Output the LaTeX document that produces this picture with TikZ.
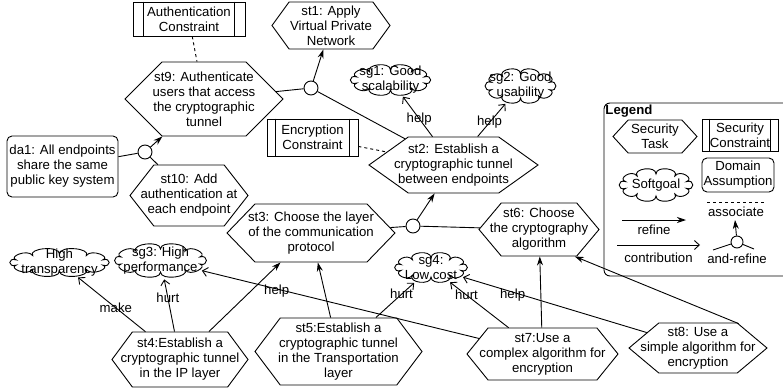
\documentclass[tikz,border=0pt]{standalone}
\usepackage{fontspec}
\setmainfont{Liberation Sans}
\usetikzlibrary{shapes.symbols,shapes.geometric,arrows.meta}
\tikzset{
  task/.style={signal, signal to=east and west, signal pointer angle=#1, draw,
    align=center, inner xsep=-30pt, inner ysep=-20pt},
  goal/.style={ellipse, align=center, inner xsep=-20pt, inner ysep=-14pt},
  constr/.style={draw, align=center, inner sep=0pt},
  assum/.style={draw, rounded corners=5pt, align=center, inner sep=0pt},
  andref/.style={draw, circle, fill=white, minimum size=14pt, inner sep=0pt},
  refine/.style={-{Stealth[length=9pt,width=6pt]}},
  contrib/.style={-{Straight Barb[length=5pt,width=9pt]}},
  assoc/.style={dashed},
  lbl/.style={inner sep=0pt}
}

\begin{document}
\begin{tikzpicture}[x=1pt,y=1pt,line width=0.9pt,font=\fontsize{13.2}{15}\selectfont]
\useasboundingbox (0,0) rectangle (783,-391);

\node (authc) at (189,-19) [constr, minimum width=112, minimum height=34] {Authentication\\Constraint};
\node (st1) at (331,-25.5) [task=108, minimum width=118, minimum height=47] {st1: Apply\\Virtual Private\\Network};
\node (st9) at (204,-99) [task=90, minimum width=158, minimum height=74] {st9: Authenticate\\users that access\\the cryptographic\\tunnel};
\node (sg1) at (390.5,-80) [goal, minimum width=85, minimum height=34] {sg1: Good\\scalability};
\node (sg2) at (520.5,-86) [goal, minimum width=75, minimum height=38] {sg2: Good\\usability};
\node (encc) at (312.5,-137.5) [constr, minimum width=91, minimum height=37] {Encryption\\Constraint};
\node (st2) at (453.5,-165) [task=71, minimum width=169, minimum height=56] {st2: Establish a\\cryptographic tunnel\\between endpoints};
\node (da1) at (62.5,-166.5) [assum, minimum width=111, minimum height=61] {da1: All endpoints\\share the same\\public key system};
\node (st10) at (189,-195.5) [task=104, minimum width=118, minimum height=61] {st10: Add\\authentication at\\each endpoint};
\node (st3) at (311,-233) [task=92, minimum width=168, minimum height=58] {st3: Choose the layer\\of the communication\\protocol};
\node (st6) at (539,-229.5) [task=100, minimum width=120, minimum height=53] {st6: Choose\\the cryptography\\algorithm};
\node (ht) at (59.5,-262.5) [goal, minimum width=105, minimum height=31] {High\\transparency};
\node (sg3) at (160.5,-260.5) [goal, minimum width=97, minimum height=37] {sg3: High\\performance};
\node (sg4) at (431,-267.5) [goal, minimum width=77, minimum height=33] {sg4:\\Low cost};
\node (st4) at (180,-359.5) [task=107, minimum width=136, minimum height=55] {st4:Establish a\\cryptographic tunnel\\in the IP layer};
\node (st5) at (338.5,-351.5) [task=106, minimum width=167, minimum height=67] {st5:Establish a\\cryptographic tunnel\\in the Transportation\\layer};
\node (st7) at (542.5,-354) [task=102, minimum width=151, minimum height=52] {st7:Use a\\complex algorithm for\\encryption};
\node (st8) at (698,-348) [task=80, minimum width=138, minimum height=50] {st8: Use a\\simple algorithm for\\encryption};

\node (and1) at (311,-88) [andref] {};
\node (and2) at (145,-152) [andref] {};
\node (and3) at (413,-226) [andref] {};

\draw[assoc] (authc) -- (st9);
\draw[assoc] (encc) -- (st2);
\draw (st9) -- (and1);
\draw (st2) -- (and1);
\draw[refine] (and1) -- (st1);
\draw (da1) -- (and2);
\draw (st10) -- (and2);
\draw[refine] (and2) -- (st9);
\draw (st3) -- (and3);
\draw (st6) -- (and3);
\draw[refine] (and3) -- (st2);
\draw[refine] (st4) -- (st3);
\draw[refine] (st5) -- (st3);
\draw[refine] (st7) -- (st6);
\draw[refine] (st8.31) -- (st6.-37);
\draw[contrib] (st2) -- (sg1) node[lbl, pos=.45] {help};
\draw[contrib] (st2) -- (sg2) node[lbl, pos=.43] {help};
\draw[contrib] (st4) -- (ht) node[lbl, pos=.44] {make};
\draw[contrib] (st4) -- (sg3) node[lbl, pos=.65] {hurt};
\draw[contrib] (st5) -- (sg4) node[lbl, pos=.67] {hurt};
\draw[contrib] (st7) -- (sg4) node[lbl, pos=.72] {hurt};
\draw[contrib] (st7) -- (sg3) node[lbl, pos=.73, yshift=-2pt] {help};
\draw[contrib] (st8) -- (sg4) node[lbl, pos=.73, yshift=-3pt] {help};

\draw[rounded corners=6pt] (604,-103) rectangle (800,-276);
\node (legtitle) at (605,-104) [anchor=north west, inner sep=0pt] {\bfseries Legend};
\node (legtask) at (655,-136.5) [task=95, minimum width=84, minimum height=33] {Security\\Task};
\node (legc) at (740,-135) [constr, minimum width=76, minimum height=32] {Security\\Constraint};
\node (leggoal) at (656,-185) [goal, minimum width=78, minimum height=36] {Softgoal};
\node (legda) at (738,-175) [assum, minimum width=72, minimum height=34] {Domain\\Assumption};
\coordinate (as1) at (707,-202);
\coordinate (as2) at (765,-202);
\draw[assoc] (as1) -- (as2) node[lbl, midway, below=4pt] {associate};
\coordinate (rf1) at (622,-220);
\coordinate (rf2) at (686,-220);
\draw[refine] (rf1) -- (rf2) node[lbl, midway, below=4pt] {refine};
\coordinate (ct1) at (617,-245);
\coordinate (ct2) at (700,-245);
\draw[contrib] (ct1) -- (ct2) node[lbl, midway, below=7pt] {contribution};
\node (legand) at (737,-242) [andref, minimum size=12pt] {};
\coordinate (la1) at (713,-250);
\coordinate (la2) at (754,-249);
\coordinate (la3) at (735,-220);
\draw (la1) -- (legand) -- (la2);
\draw[refine] (legand) -- (la3);
\node (legandtxt) at (737,-259) [lbl] {and-refine};

\foreach \c/\d in {authc/11, encc/9, legc/8}
  \draw ([xshift=\d]\c.north west) -- ([xshift=\d]\c.south west)
        ([xshift=-\d]\c.north east) -- ([xshift=-\d]\c.south east);

\foreach \n/\w/\h in {sg1/85/34, sg2/75/38, ht/105/31, sg3/97/37, sg4/77/33, leggoal/78/36}
  \draw[shift={(\n.center)}] (18:\w/2-7 and \h/2-7)
    \foreach \t in {54,90,...,378} { .. controls (\t-36:\w/2+2 and \h/2+2) and (\t:\w/2+2 and \h/2+2) .. (\t:\w/2-7 and \h/2-7)} -- cycle;
\end{tikzpicture}
\end{document}
